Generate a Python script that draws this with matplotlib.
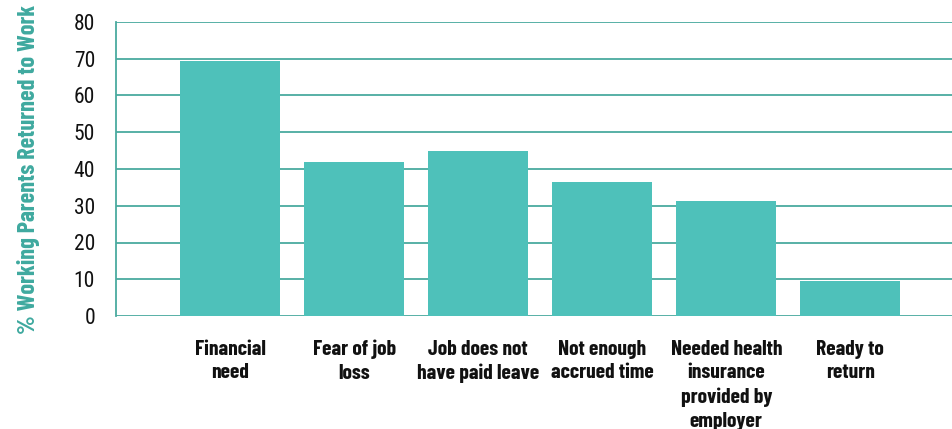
import matplotlib
matplotlib.use("Agg")
import matplotlib.pyplot as plt

categories = [
    "Financial\nneed",
    "Fear of job\nloss",
    "Job does not\nhave paid leave",
    "Not enough\naccrued time",
    "Needed health\ninsurance\nprovided by\nemployer",
    "Ready to\nreturn",
]
values = [69.3, 41.9, 44.9, 36.5, 31.3, 9.6]
yticks = [0, 10, 20, 30, 40, 50, 60, 70, 80]

BAR = "#4ec1ba"
GRID = "#4aaa9f"
LABEL_FONT = dict(family=["Barlow Condensed", "DejaVu Sans"], fontweight="bold")

fig = plt.figure(figsize=(9.53, 4.29), dpi=100)
ax = fig.add_axes([116 / 953, 113 / 429, (952 - 116) / 953, 294 / 429])

x = list(range(len(categories)))
ax.bar(x, values, width=0.806, color=BAR, zorder=2)

ax.set_ylim(0, 80)
ax.set_xlim(-0.92, 5.82)
ax.set_yticks(yticks)
ax.yaxis.grid(True, color=GRID, linewidth=1.3, zorder=1)
ax.set_axisbelow(True)

for s in ["top", "right", "bottom"]:
    ax.spines[s].set_visible(False)
ax.spines["left"].set_color(GRID)
ax.spines["left"].set_linewidth(1.3)

ax.tick_params(axis="y", length=0, pad=15)
ax.tick_params(axis="x", length=0, pad=17)
ax.set_yticklabels([str(t) for t in yticks], fontsize=15.5, color="#111111",
                   family=["Roboto Condensed", "DejaVu Sans"])
ax.set_xticks(x)
ax.set_xticklabels(categories, fontsize=15.5, color="#111111",
                   linespacing=1.32, **LABEL_FONT)

ax.set_ylabel("% Working Parents Returned to Work", fontsize=17.5,
              color="#3fa99f", labelpad=24, **LABEL_FONT)

fig.savefig("out.png", dpi=100)
